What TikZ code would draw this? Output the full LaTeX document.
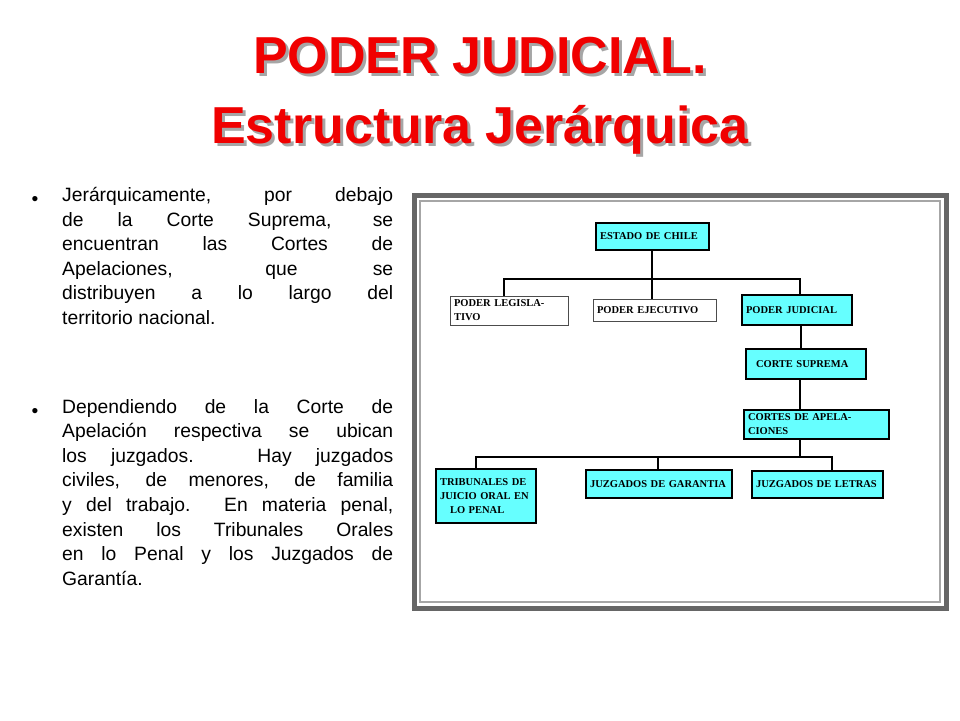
\documentclass[tikz,border=0pt]{standalone}
\usepackage{fontspec}
\setmainfont{Liberation Sans}
\newfontfamily\orgfont{Liberation Serif}
\usetikzlibrary{positioning}
\definecolor{titlered}{RGB}{240,0,0}
\definecolor{boxcyan}{RGB}{102,255,255}
\tikzstyle{orgbox} = [rectangle, draw=black, line width=2pt, fill=boxcyan, font=\orgfont\bfseries\fontsize{10.5}{14}\selectfont, align=left, inner sep=4pt]
\tikzstyle{plainbox} = [rectangle, draw=black!70, line width=0.8pt, fill=white, font=\orgfont\bfseries\fontsize{10.5}{14}\selectfont, align=left, inner sep=4pt]
\tikzstyle{link} = [line width=2pt]
\tikzstyle{bodytext} = [anchor=north west, text width=331pt, align=justify, font=\fontsize{19.3}{24.6}\selectfont, inner sep=0pt]

\begin{document}
\begin{tikzpicture}[x=1pt,y=-1pt]
    \useasboundingbox (0,0) rectangle (960,720);
    \fill[white] (0,0) rectangle (960,720);
    % title
    \node(shadow)[font=\bfseries\fontsize{52}{70}\selectfont, text=black!35, align=center] at (483,99) {PODER JUDICIAL.\\Estructura Jerárquica};
    \node(title)[font=\bfseries\fontsize{52}{70}\selectfont, text=titlered, align=center] at (480,96) {PODER JUDICIAL.\\Estructura Jerárquica};
    % bullets
    \node(txtone)[bodytext] at (62,187) {Jerárquicamente, por debajo\linebreak de la Corte Suprema, se\linebreak encuentran las Cortes de\linebreak Apelaciones, que se\linebreak distribuyen a lo largo del\linebreak territorio nacional.};
    \node(txttwo)[bodytext] at (62,399) {Dependiendo de la Corte de\linebreak Apelación respectiva se ubican\linebreak los juzgados. Hay juzgados\linebreak civiles, de menores, de familia\linebreak y del trabajo. En materia penal,\linebreak existen los Tribunales Orales\linebreak en lo Penal y los Juzgados de\linebreak Garantía.};
    \node(dotone)[font=\fontsize{19.3}{24.6}\selectfont] at (35,201) {•};
    \node(dottwo)[font=\fontsize{19.3}{24.6}\selectfont] at (35,413) {•};
    % frame
    \node(frame)[draw=black!60, line width=5pt, fill=white, minimum width=532pt, minimum height=413pt, inner sep=0pt] at (680,401.5) {};
    \draw[black!35, line width=1.5pt] (420,201) rectangle (940,602);
    % chart
    \node(estado)[orgbox, text width=105pt, minimum height=27pt] at (652.5,236.5) {ESTADO DE CHILE};
    \node(legis)[plainbox, text width=110pt, minimum height=23pt] at (509,310.5) {PODER LEGISLATIVO};
    \node(ejec)[plainbox, text width=115pt, minimum height=22pt] at (654.5,310) {PODER EJECUTIVO};
    \node(judicial)[orgbox, text width=102pt, minimum height=30pt] at (797,310) {PODER JUDICIAL};
    \node(suprema)[orgbox, text width=112pt, minimum height=30pt] at (806,364) {\hspace{6pt}CORTE SUPREMA};
    \node(apel)[orgbox, text width=137pt, minimum height=29pt] at (816.5,424.5) {CORTES DE APELACIONES};
    \node(trib)[orgbox, text width=92pt, minimum height=54pt] at (486,496) {TRIBUNALES DE\\JUICIO ORAL EN\\\hspace{10pt}LO PENAL};
    \node(garantia)[orgbox, text width=138pt, minimum height=28pt] at (659,484) {JUZGADOS DE GARANTIA};
    \node(letras)[orgbox, text width=123pt, minimum height=27pt] at (817.5,484.5) {JUZGADOS DE LETRAS};
    \coordinate(barone) at (652,279);
    \coordinate(bartwo) at (800,457);
    \draw[link](estado.south -| barone)--(barone);
    \draw[link](legis.north -| 504,0)--(504,279)--(800,279)--(judicial.north -| 800,0);
    \draw[link](barone)--(ejec.north -| barone);
    \draw[link](judicial.south -| 801,0)--(suprema.north -| 801,0);
    \draw[link](suprema.south -| 800,0)--(apel.north -| 800,0);
    \draw[link](apel.south -| bartwo)--(bartwo);
    \draw[link](trib.north -| 476,0)--(476,457)--(832,457)--(letras.north -| 832,0);
    \draw[link](658,457)--(garantia.north -| 658,0);
  \end{tikzpicture}
\end{document}
